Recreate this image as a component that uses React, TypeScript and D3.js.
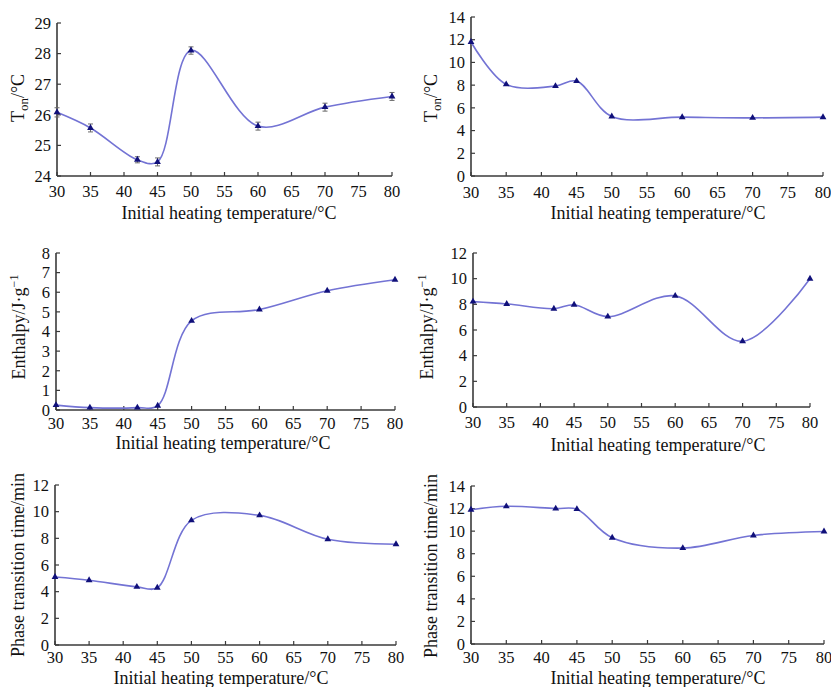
import React from 'react'
import * as d3 from 'd3'

// initial heating temperatures (°C)
const TEMPS = [30, 35, 42, 45, 50, 60, 70, 80]
const X_TICKS = [30, 35, 40, 45, 50, 55, 60, 65, 70, 75, 80]

// onset temperature, first sample (with error bars)
const TON_A = [26.08, 25.57, 24.53, 24.46, 28.1, 25.63, 26.25, 26.6]
const TON_A_ERR = [0.15, 0.13, 0.1, 0.13, 0.12, 0.13, 0.13, 0.13]
// onset temperature, second sample
const TON_B = [11.8, 8.07, 7.92, 8.36, 5.24, 5.18, 5.12, 5.18]
// enthalpy
const ENTH_A = [0.25, 0.12, 0.12, 0.22, 4.54, 5.12, 6.08, 6.64]
const ENTH_B = [8.21, 8.03, 7.66, 7.97, 7.04, 8.66, 5.12, 10.0]
// phase transition time
const TIME_A = [5.1, 4.86, 4.36, 4.3, 9.35, 9.72, 7.93, 7.56]
const TIME_B = [11.9, 12.2, 12.0, 11.95, 9.42, 8.5, 9.62, 9.97]

const Y_TICKS_TON_A = [24, 25, 26, 27, 28, 29]
const Y_TICKS_14 = [0, 2, 4, 6, 8, 10, 12, 14]
const Y_TICKS_12 = [0, 2, 4, 6, 8, 10, 12]
const Y_TICKS_8 = [0, 1, 2, 3, 4, 5, 6, 7, 8]

const X_TITLE = 'Initial heating temperature/°C'

const FONT = '"Liberation Serif", "Times New Roman", serif'
const TICK_SIZE = 16.5
const TITLE_SIZE = 18
const LINE_COLOR = '#7373d4'
const MARK_COLOR = '#10107a'
const AXIS_COLOR = '#3a3a3a'

type YLabel = 'ton' | 'enth' | 'time'

interface PanelSpec {
  values: number[]
  errors?: number[]
  yTicks: number[]
  yLabel: YLabel
  // layout of plot area
  left: number
  right: number
  top: number
  bottom: number
  tickY: number
  titleY: number
  titleX: number
  yTitleX: number
  yTitleY: number
}

const PANELS: PanelSpec[] = [
  { values: TON_A, errors: TON_A_ERR, yTicks: Y_TICKS_TON_A, yLabel: 'ton',
    left: 57, right: 392, top: 23, bottom: 176, tickY: 197, titleY: 219, titleX: 229, yTitleX: 24, yTitleY: 98 },
  { values: TON_B, yTicks: Y_TICKS_14, yLabel: 'ton',
    left: 471, right: 823, top: 17, bottom: 176, tickY: 198, titleY: 219, titleX: 658, yTitleX: 437, yTitleY: 98 },
  { values: ENTH_A, yTicks: Y_TICKS_8, yLabel: 'enth',
    left: 56, right: 395, top: 253, bottom: 410, tickY: 429, titleY: 449, titleX: 223, yTitleX: 25, yTitleY: 327 },
  { values: ENTH_B, yTicks: Y_TICKS_12, yLabel: 'enth',
    left: 473, right: 810, top: 253, bottom: 407, tickY: 428, titleY: 451, titleX: 658, yTitleX: 433, yTitleY: 327 },
  { values: TIME_A, yTicks: Y_TICKS_12, yLabel: 'time',
    left: 55, right: 396, top: 485, bottom: 645, tickY: 663, titleY: 684, titleX: 221, yTitleX: 24, yTitleY: 565 },
  { values: TIME_B, yTicks: Y_TICKS_14, yLabel: 'time',
    left: 471, right: 824, top: 486, bottom: 644, tickY: 663, titleY: 684, titleX: 658, yTitleX: 437, yTitleY: 566 }
]

const YTitle: React.FC<{ kind: YLabel; x: number; y: number }> = ({ kind, x, y }) => {
  const common = {
    transform: `translate(${x},${y}) rotate(-90)`,
    textAnchor: 'middle' as const,
    fontFamily: FONT,
    fontSize: TITLE_SIZE,
    fill: '#111'
  }
  if (kind === 'ton') {
    return (
      <text {...common}>
        T<tspan fontSize={13} dy={4}>on</tspan><tspan dy={-4}>/°C</tspan>
      </text>
    )
  }
  if (kind === 'enth') {
    return (
      <text {...common}>
        Enthalpy/J·g<tspan fontSize={12} dy={-7}>−1</tspan>
      </text>
    )
  }
  return <text {...common}>Phase transition time/min</text>
}

const Panel: React.FC<{ p: PanelSpec }> = ({ p }) => {
  const x = d3.scaleLinear().domain([30, 80]).range([p.left, p.right])
  const y = d3.scaleLinear()
    .domain([p.yTicks[0], p.yTicks[p.yTicks.length - 1]])
    .range([p.bottom, p.top])

  const pts: [number, number][] = TEMPS.map((t, i) => [t, p.values[i]])
  const line = d3.line<[number, number]>()
    .x(d => x(d[0]))
    .y(d => y(d[1]))
    .curve(d3.curveCatmullRom.alpha(0.5))

  const tri = d3.symbol().type(d3.symbolTriangle).size(20)()

  return (
    <g>
      {/* axes */}
      <line x1={p.left} x2={p.right} y1={p.bottom} y2={p.bottom} stroke={AXIS_COLOR} strokeWidth={1.6} />
      <line x1={p.left} x2={p.left} y1={p.top} y2={p.bottom} stroke={AXIS_COLOR} strokeWidth={1.6} />
      {X_TICKS.map(t => (
        <g key={'x' + t}>
          <line x1={x(t)} x2={x(t)} y1={p.bottom} y2={p.bottom - 4} stroke={AXIS_COLOR} strokeWidth={1.2} />
          <text x={x(t)} y={p.tickY} textAnchor="middle" fontFamily={FONT} fontSize={TICK_SIZE} fill="#111">{t}</text>
        </g>
      ))}
      {p.yTicks.map(t => (
        <g key={'y' + t}>
          <line x1={p.left} x2={p.left + 4} y1={y(t)} y2={y(t)} stroke={AXIS_COLOR} strokeWidth={1.2} />
          <text x={p.left - 6} y={y(t)} dy="0.35em" textAnchor="end" fontFamily={FONT} fontSize={TICK_SIZE} fill="#111">{t}</text>
        </g>
      ))}
      <text x={p.titleX} y={p.titleY} textAnchor="middle" fontFamily={FONT} fontSize={TITLE_SIZE} fill="#111">{X_TITLE}</text>
      <YTitle kind={p.yLabel} x={p.yTitleX} y={p.yTitleY} />

      {/* curve */}
      <path d={line(pts) || ''} fill="none" stroke={LINE_COLOR} strokeWidth={1.6} />

      {/* error bars */}
      {p.errors && pts.map((d, i) => {
        const e = p.errors![i]
        const cx = x(d[0])
        return (
          <g key={'e' + i} stroke="#6a6a6a" strokeWidth={1}>
            <line x1={cx} x2={cx} y1={y(d[1] - e)} y2={y(d[1] + e)} />
            <line x1={cx - 2.5} x2={cx + 2.5} y1={y(d[1] + e)} y2={y(d[1] + e)} />
            <line x1={cx - 2.5} x2={cx + 2.5} y1={y(d[1] - e)} y2={y(d[1] - e)} />
          </g>
        )
      })}

      {/* markers */}
      {pts.map((d, i) => (
        <path key={'m' + i} d={tri || ''} transform={`translate(${x(d[0])},${y(d[1])})`} fill={MARK_COLOR} />
      ))}
    </g>
  )
}

export default function App() {
  return (
    <svg
      width={831}
      height={687}
      viewBox="0 0 831 687"
      style={{ position: 'absolute', left: 0, top: 0, background: '#fff' }}
    >
      <rect width={831} height={687} fill="#fff" />
      {PANELS.map((p, i) => <Panel key={i} p={p} />)}
    </svg>
  )
}
